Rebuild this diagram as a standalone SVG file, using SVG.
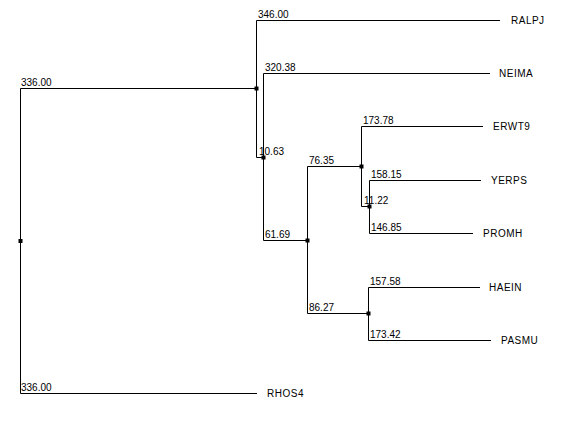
<svg xmlns="http://www.w3.org/2000/svg" width="582" height="447" viewBox="0 0 582 447">
<style>
.e{fill:none;stroke:#000;stroke-width:1}
.n{fill:#000}
text{font-family:"Liberation Sans",Arial,sans-serif;font-size:10px;fill:#000}
.l{letter-spacing:0.5px}
</style>
<rect width="582" height="447" fill="#fff"/>
<g id="connectors">
<path class="e" d="M20.5,88.5V393.5M20.5,88.5H256.5M20.5,393.5H257"/>
<path class="e" d="M256.5,20.5V157.5M256.5,20.5H500M256.5,157.5H263.5"/>
<path class="e" d="M263.5,73.5V240.5M263.5,73.5H490M263.5,240.5H307.5"/>
<path class="e" d="M307.5,166.5V313.5M307.5,166.5H361.5M307.5,313.5H368.5"/>
<path class="e" d="M361.5,126.5V206.5M361.5,126.5H483M361.5,206.5H369.5"/>
<path class="e" d="M369.5,180.5V233.5M369.5,180.5H481M369.5,233.5H473"/>
<path class="e" d="M368.5,287.5V340.5M368.5,287.5H480M368.5,340.5H491"/>
</g>
<g id="n_root"><rect class="n" x="18.5" y="239" width="4" height="4"/></g>
<g id="n1"><rect class="n" x="254.5" y="86.5" width="4" height="4"/><text x="21" y="86">336.00</text><text x="21" y="391">336.00</text></g>
<g id="n2"><rect class="n" x="261.5" y="155.5" width="4" height="4"/><text x="258" y="18">346.00</text><text x="259" y="155">10.63</text></g>
<g id="n3"><rect class="n" x="305.5" y="238.5" width="4" height="4"/><text x="265" y="71">320.38</text><text x="265" y="238">61.69</text></g>
<g id="n4"><rect class="n" x="359.5" y="164.5" width="4" height="4"/><text x="309" y="164">76.35</text><text x="309" y="311">86.27</text></g>
<g id="n5"><rect class="n" x="367.5" y="204.5" width="4" height="4"/><text x="363" y="124">173.78</text><text x="364" y="204">11.22</text></g>
<g id="n6"><text x="371" y="178">158.15</text><text x="371" y="231">146.85</text></g>
<g id="n7"><rect class="n" x="366.5" y="311.5" width="4" height="4"/><text x="370" y="285">157.58</text><text x="370" y="338">173.42</text></g>
<g id="leaf_RALPJ"><text class="l" x="511" y="24">RALPJ</text></g>
<g id="leaf_NEIMA"><text class="l" x="499" y="77">NEIMA</text></g>
<g id="leaf_ERWT9"><text class="l" x="493" y="130">ERWT9</text></g>
<g id="leaf_YERPS"><text class="l" x="491" y="184">YERPS</text></g>
<g id="leaf_PROMH"><text class="l" x="483" y="237">PROMH</text></g>
<g id="leaf_HAEIN"><text class="l" x="489" y="291">HAEIN</text></g>
<g id="leaf_PASMU"><text class="l" x="501" y="344">PASMU</text></g>
<g id="leaf_RHOS4"><text class="l" x="267" y="397">RHOS4</text></g>
</svg>
